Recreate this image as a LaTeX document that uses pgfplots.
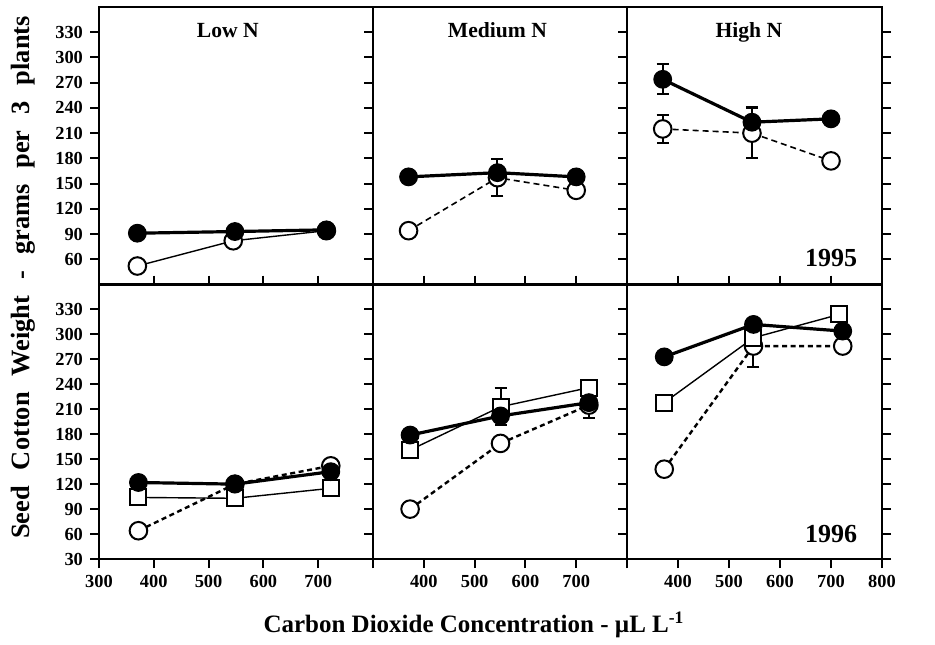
\documentclass[border=0pt]{standalone}
\usepackage{pgfplots}
\pgfplotsset{compat=1.18}
\usepackage{fontspec}
\setmainfont{Liberation Serif}

\pgfplotsset{
  panel/.style={
    scale only axis, anchor=south west,
    xmin=300, xmax=800, ymin=30, ymax=360,
    axis line style={line width=1.2pt},
    tick align=outside,
    major tick length=4.5pt,
    tick style={line width=1pt, black},
    tick label style={font=\fontsize{9.2}{9.2}\selectfont\bfseries},
    /pgf/number format/assume math mode=true,
    clip=false,
  },
  toprow/.style={panel, height=138.75pt, xtick=\empty, ytick={60,90,...,330}},
  botrow/.style={panel, height=137.25pt, xtick={300,400,...,800}, xtick pos=both,
    ytick={30,60,...,330}},
  filled/.style={black, line width=1.6pt, mark=*, mark size=4.4pt,
    mark options={solid, fill=black, line width=0.6pt}},
  opencirc/.style={black, line width=0.8pt, densely dashed, mark=*, mark size=4.4pt,
    mark options={solid, fill=white, line width=1pt}},
  opencircb/.style={black, line width=1.2pt, dash pattern=on 2.5pt off 1.8pt, mark=*, mark size=4.4pt,
    mark options={solid, fill=white, line width=1pt}},
  squares/.style={black, line width=0.7pt, mark=square*, mark size=4pt,
    mark options={solid, fill=white, line width=1pt}},
  ebar/.style={error bars/.cd, y dir=both, y explicit,
    error bar style={line width=1pt, solid},
    error mark options={rotate=90, mark size=3pt, line width=1pt, solid}},
}
\tikzset{
  ttl/.style={font=\fontsize{10.8}{10.8}\selectfont\bfseries},
  yr/.style={font=\fontsize{13}{13}\selectfont\bfseries},
}

\begin{document}
\begin{tikzpicture}
\path (0,0) rectangle (467.5pt,321.5pt);

% ---------------- 1995 ----------------
\begin{axis}[toprow, at={(49.5pt,179.25pt)}, width=137pt, ytick pos=left]
\addplot[opencirc, solid, line width=0.7pt] coordinates {(370,52) (545,82) (715,94)};
\addplot[filled] coordinates {(370,91) (548,93) (715,95)};
\node[ttl] at (rel axis cs:0.47,0.914) {Low N};
\end{axis}

\begin{axis}[toprow, at={(186.5pt,179.25pt)}, width=127pt, ytick pos=left, yticklabels={}]
\addplot[opencirc, ebar] coordinates {(370,94) (545,157) +- (0,22) (700,142)};
\addplot[filled] coordinates {(370,158) (545,163) (700,158)};
\node[ttl] at (rel axis cs:0.49,0.918) {Medium N};
\end{axis}

\begin{axis}[toprow, at={(313.5pt,179.25pt)}, width=127.5pt, ytick pos=both, yticklabels={}]
\addplot[opencirc, ebar] coordinates {(370,215) +- (0,17) (545,210) +- (0,30) (700,177)};
\addplot[filled, ebar] coordinates {(370,274) +- (0,18) (545,223) +- (0,18) (700,227)};
\node[ttl] at (rel axis cs:0.478,0.907) {High N};
\node[yr] at (rel axis cs:0.80,0.094) {1995};
\end{axis}

% ---------------- 1996 ----------------
\begin{axis}[botrow, at={(49.5pt,42pt)}, width=137pt, ytick pos=left,
  xticklabels={300,400,500,600,700,}]
\addplot[opencircb] coordinates {(372,64) (548,120) (723,142)};
\addplot[squares] coordinates {(372,104) (548,103) (723,115)};
\addplot[filled] coordinates {(372,122) (548,120) (723,135)};
\end{axis}

\begin{axis}[botrow, at={(186.5pt,42pt)}, width=127pt, ytick pos=left, yticklabels={},
  xticklabels={,400,500,600,700,}]
\addplot[opencircb, ebar] coordinates {(373,90) (551,169) (725,215) +- (0,15)};
\addplot[squares, ebar] coordinates {(373,161) (551,213) +- (0,22) (725,236)};
\addplot[filled] coordinates {(373,179) (551,202) (725,218)};
\end{axis}

\begin{axis}[botrow, at={(313.5pt,42pt)}, width=127.5pt, ytick pos=both, yticklabels={},
  xticklabels={,400,500,600,700,800}]
\addplot[opencircb, ebar] coordinates {(373,138) (548,286) +- (0,25) (723,286)};
\addplot[squares] coordinates {(373,218) (548,296) (716,324)};
\addplot[filled] coordinates {(373,273) (548,312) (723,304)};
\node[yr] at (rel axis cs:0.80,0.09) {1996};
\end{axis}

\node[rotate=90, font=\fontsize{13.2}{13.2}\selectfont\bfseries] at (11.5pt,182.75pt)
  {Seed\hspace{8pt}Cotton\hspace{8pt}Weight\hspace{8pt}-\hspace{8pt}grams\hspace{8pt}per\hspace{8pt}3\hspace{8pt}plants};
\node[font=\fontsize{12.5}{12.5}\selectfont\bfseries] at (237pt,9pt)
  {Carbon Dioxide Concentration - µL L\textsuperscript{-1}};
\end{tikzpicture}
\end{document}
